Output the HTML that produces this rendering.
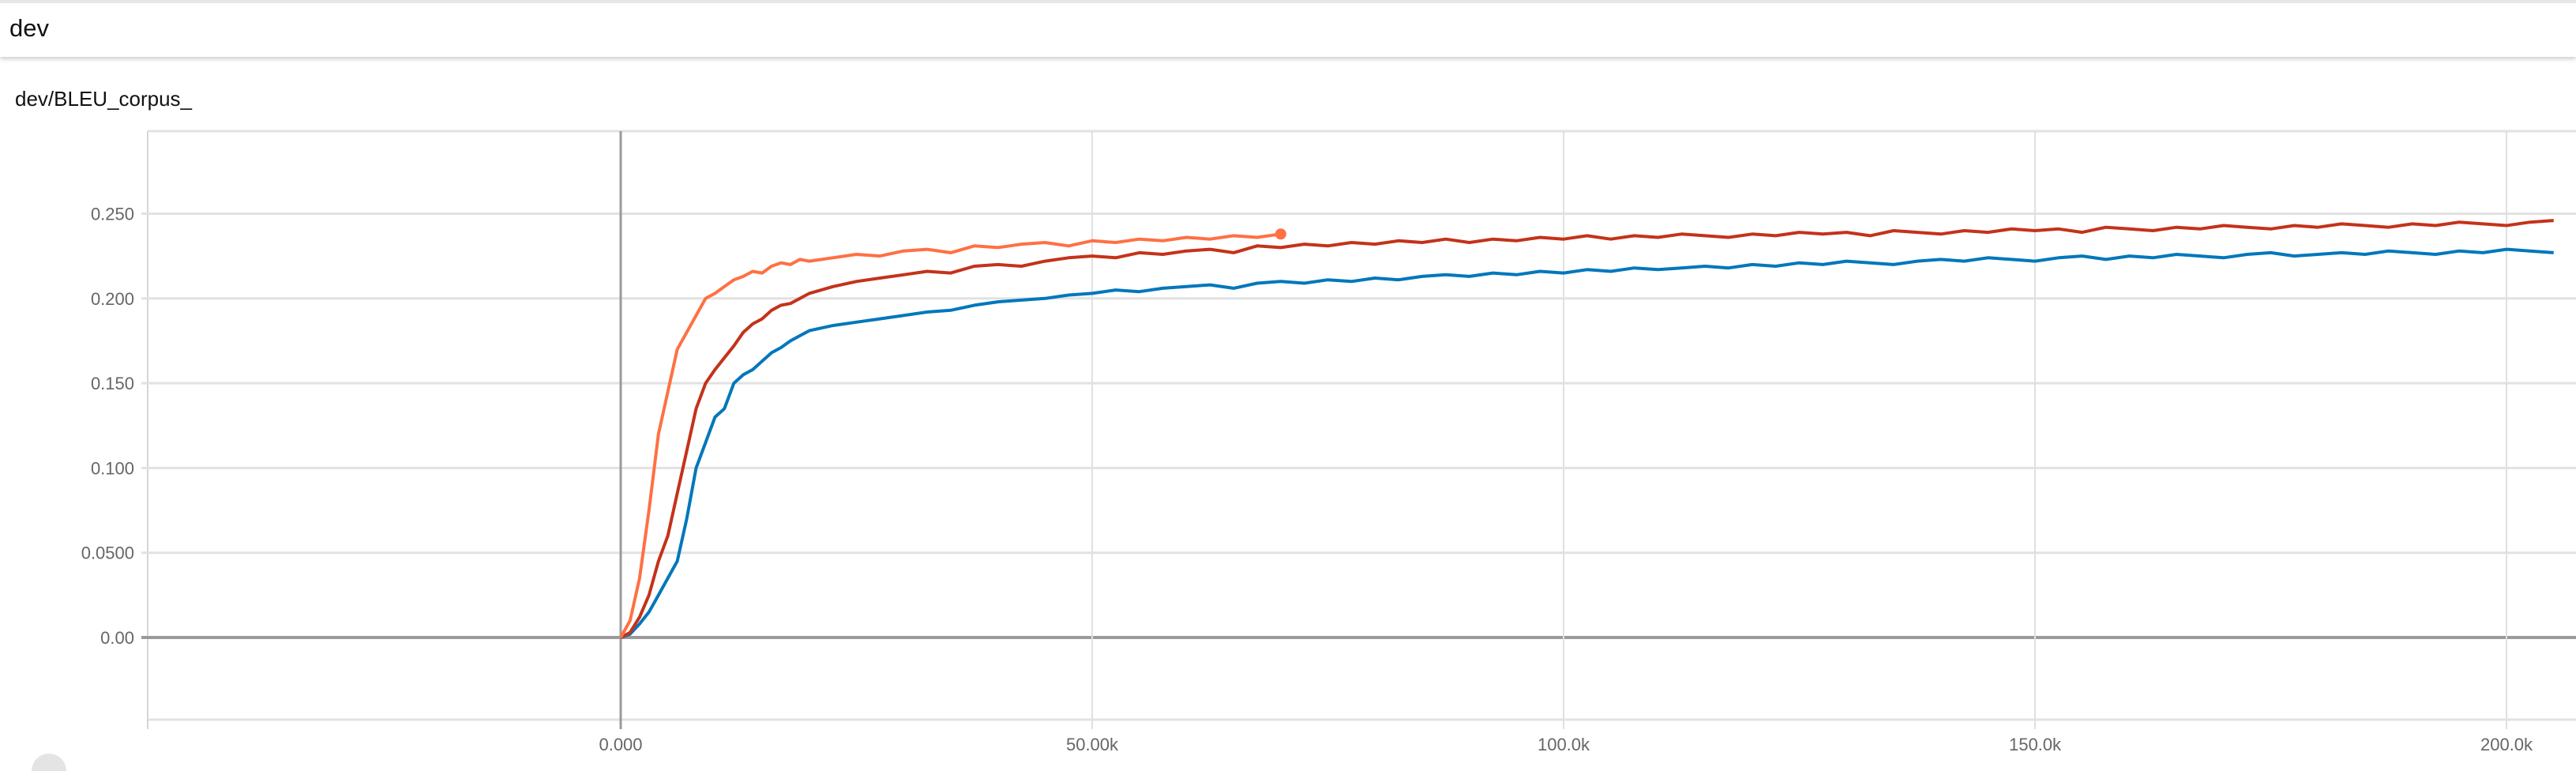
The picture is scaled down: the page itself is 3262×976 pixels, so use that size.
<!DOCTYPE html>
<html><head><meta charset="utf-8"><style>
html,body{margin:0;padding:0;width:3262px;height:976px;overflow:hidden;background:#fff;font-family:"Liberation Sans",sans-serif}
#hdr{position:absolute;left:0;top:0;width:3262px;height:72px;background:#fff;border-top:4px solid #e6e6e6;box-sizing:border-box;box-shadow:0 3px 5px rgba(0,0,0,0.18)}
#hdr span{position:absolute;left:12px;top:14px;font-size:31px;color:#111}
#title{position:absolute;left:19px;top:110px;font-size:26px;color:#111}
svg{position:absolute;left:0;top:0;overflow:hidden}
</style></head><body>
<div id="hdr"><span>dev</span></div>
<div id="title">dev/BLEU_corpus_</div>
<svg id="chart" width="3262" height="976"></svg>
<script>
const stepsK = [0,1,2,3,4,5,6,7,8,9,10,11,12,13,14,15,16,17,18,19,20,22.5,25,27.5,30,32.5,35,37.5,40,42.5,45,47.5,50,52.5,55,57.5,60,62.5,65,67.5,70,72.5,75,77.5,80,82.5,85,87.5,90,92.5,95,97.5,100,102.5,105,107.5,110,112.5,115,117.5,120,122.5,125,127.5,130,132.5,135,137.5,140,142.5,145,147.5,150,152.5,155,157.5,160,162.5,165,167.5,170,172.5,175,177.5,180,182.5,185,187.5,190,192.5,195,197.5,200,202.5,205];
const orangeValues = [0,0.01,0.035,0.075,0.12,0.145,0.17,0.18,0.19,0.20,0.203,0.207,0.211,0.213,0.216,0.215,0.219,0.221,0.220,0.223,0.222,
0.224,0.226,0.225,0.228,0.229,0.227,0.231,0.230,0.232,0.233,0.231,0.234,0.233,0.235,0.234,0.236,0.235,0.237,0.236,0.238];
const redValues = [0,0.003,0.012,0.025,0.045,0.06,0.085,0.11,0.135,0.15,0.158,0.165,0.172,0.18,0.185,0.188,0.193,0.196,0.197,0.2,0.203,
0.207,0.210,0.212,0.214,0.216,0.215,0.219,0.220,0.219,0.222,0.224,0.225,0.224,0.227,0.226,0.228,0.229,0.227,0.231,0.230,0.232,0.231,0.233,0.232,0.234,0.233,0.235,0.233,0.235,0.234,0.236,0.235,0.237,0.235,0.237,0.236,0.238,0.237,0.236,0.238,0.237,0.239,0.238,0.239,0.237,0.240,0.239,0.238,0.240,0.239,0.241,0.240,0.241,0.239,0.242,0.241,0.240,0.242,0.241,0.243,0.242,0.241,0.243,0.242,0.244,0.243,0.242,0.244,0.243,0.245,0.244,0.243,0.245,0.246];
const blueValues = [0,0.002,0.008,0.015,0.025,0.035,0.045,0.07,0.1,0.115,0.13,0.135,0.15,0.155,0.158,0.163,0.168,0.171,0.175,0.178,0.181,
0.184,0.186,0.188,0.190,0.192,0.193,0.196,0.198,0.199,0.200,0.202,0.203,0.205,0.204,0.206,0.207,0.208,0.206,0.209,0.210,0.209,0.211,0.210,0.212,0.211,0.213,0.214,0.213,0.215,0.214,0.216,0.215,0.217,0.216,0.218,0.217,0.218,0.219,0.218,0.220,0.219,0.221,0.220,0.222,0.221,0.220,0.222,0.223,0.222,0.224,0.223,0.222,0.224,0.225,0.223,0.225,0.224,0.226,0.225,0.224,0.226,0.227,0.225,0.226,0.227,0.226,0.228,0.227,0.226,0.228,0.227,0.229,0.228,0.227];
const yTicks = [0.25,0.2,0.15,0.1,0.05,0];
const yTickLabels = ["0.250","0.200","0.150","0.100","0.0500","0.00"];
const xTicks = [0,50,100,150,200];
const xTickLabels = ["0.000","50.00k","100.0k","150.0k","200.0k"];

const NS="http://www.w3.org/2000/svg";
const svg=document.getElementById('chart');
const X0=786, PXK=597/50, Y0=807, PXV=107.3/0.05;
const PL=187, PT=166, PB=911, PR=3262;
const xs=k=>X0+k*PXK, ys=v=>Y0-v*PXV;
function mk(tag,attrs){const e=document.createElementNS(NS,tag);for(const k in attrs)e.setAttribute(k,attrs[k]);svg.appendChild(e);return e;}
let e;
e=mk('line',{x1:PL,x2:PR,y1:PT,y2:PT,stroke:'#e2e2e2','stroke-width':3});


e=mk('line',{x1:PL,x2:PR,y1:PB,y2:PB,stroke:'#e2e2e2','stroke-width':3});


e=mk('line',{x1:PL,x2:PL,y1:PT,y2:PB+12,stroke:'#d6d6d6','stroke-width':2});


yTicks.forEach((v,i)=>{
  const y=ys(v);
  e=mk('line',{x1:PL-8,x2:PR,y1:y,y2:y,stroke:v===0?'#9a9a9a':'#e2e2e2','stroke-width':v===0?4:3});
  
  
  e=mk('text',{x:170,y:y+8,'text-anchor':'end','font-size':22,fill:'#666','font-family':'Liberation Sans, sans-serif'});
  e.textContent=yTickLabels[i];
  
  
});
xTicks.forEach((k,i)=>{
  const x=xs(k);
  e=mk('line',{x1:x,x2:x,y1:PT,y2:PB+12,stroke:k===0?'#9a9a9a':'#e0e0e0','stroke-width':k===0?3:2});
  
  
  e=mk('text',{x:x,y:950,'text-anchor':'middle','font-size':22,fill:'#666','font-family':'Liberation Sans, sans-serif'});
  e.textContent=xTickLabels[i];
  
  
});
const clip=mk('clipPath',{id:'pc'});
const cr=document.createElementNS(NS,'rect');cr.setAttribute('x',PL);cr.setAttribute('y',PT);cr.setAttribute('width',PR-PL);cr.setAttribute('height',PB-PT);clip.appendChild(cr);
function series(vals,color,name){
  const d=vals.map((v,i)=>(i?'L':'M')+xs(stepsK[i]).toFixed(1)+','+ys(v).toFixed(1)).join(' ');
  const p=mk('path',{d:d,fill:'none',stroke:color,'stroke-width':4,'stroke-linejoin':'round','clip-path':'url(#pc)'});
  
  
}
series(blueValues,'#0077bb','series-blue');
series(redValues,'#c4321a','series-red');
series(orangeValues,'#ff7043','series-orange');
const li=orangeValues.length-1;
e=mk('circle',{cx:xs(stepsK[li]),cy:ys(orangeValues[li]),r:7,fill:'#ff7043'});


e=mk('path',{d:'M40,976 A22,22 0 0 1 84,976 Z',fill:'#e4e4e4'});


</script>
</body></html>
